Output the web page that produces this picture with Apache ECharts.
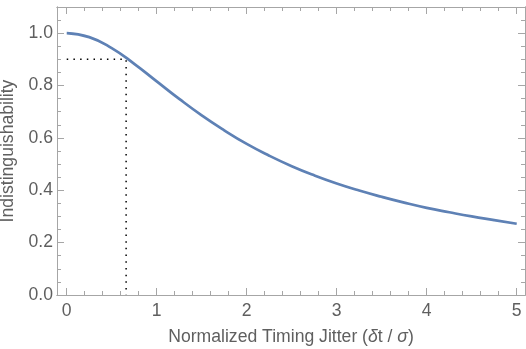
<!DOCTYPE html>
<html>
<head>
<meta charset="utf-8">
<script src="https://cdn.jsdelivr.net/npm/echarts@6/dist/echarts.min.js"></script>
<style>html,body{margin:0;padding:0;background:#fff}#c{width:526px;height:349px}</style>
</head>
<body>
<div id="c"></div>
<script>
// Data
const curveX = [0, 0.25, 0.5, 0.75, 1, 1.25, 1.5, 1.75, 2, 2.25, 2.5, 2.75, 3, 3.25, 3.5, 3.75, 4, 4.25, 4.5, 4.75, 5];
const curveY = [1.0, 0.985, 0.943, 0.883, 0.816, 0.749, 0.686, 0.629, 0.577, 0.532, 0.492, 0.457, 0.426, 0.399, 0.375, 0.353, 0.333, 0.316, 0.300, 0.286, 0.272];
const refX = [0, 0.66, 0.66];
const refY = [0.9, 0.9, 0];
const xMajor = [0, 1, 2, 3, 4, 5];
const xMinor = [0.2,0.4,0.6,0.8,1.2,1.4,1.6,1.8,2.2,2.4,2.6,2.8,3.2,3.4,3.6,3.8,4.2,4.4,4.6,4.8];
const yMajor = [0, 0.2, 0.4, 0.6, 0.8, 1.0];
const yMinor = [0.05,0.1,0.15,0.25,0.3,0.35,0.45,0.5,0.55,0.65,0.7,0.75,0.85,0.9,0.95,1.05];

const frameColor = '#a6a6a6';
const textColor = '#5f5f5f';
const font = 'Liberation Sans, Arial, sans-serif';
const FS = 17.6;
const XMIN = -0.108, XMAX = 5.092, YMIN = 0, YMAX = 1.1;

function xAx(pos, ticks, len, labels, extra) {
  return Object.assign({
    type: 'value', position: pos, min: XMIN, max: XMAX, gridIndex: 0,
    axisLine: { show: true, onZero: false, lineStyle: { color: frameColor, width: 1 } },
    axisTick: { show: true, inside: true, length: len, customValues: ticks, lineStyle: { color: frameColor, width: 1 } },
    axisLabel: labels ? { show: true, customValues: ticks, color: textColor, fontSize: FS, fontFamily: font, margin: 7, formatter: v => String(Math.round(v)) } : { show: false },
    splitLine: { show: false }
  }, extra || {});
}
function yAx(pos, ticks, len, labels, extra) {
  return Object.assign({
    type: 'value', position: pos, min: YMIN, max: YMAX, gridIndex: 0,
    axisLine: { show: true, onZero: false, lineStyle: { color: frameColor, width: 1 } },
    axisTick: { show: true, inside: true, length: len, customValues: ticks, lineStyle: { color: frameColor, width: 1 } },
    axisLabel: labels ? { show: true, customValues: ticks, color: textColor, fontSize: FS, fontFamily: font, margin: 4, formatter: v => v.toFixed(1) } : { show: false },
    splitLine: { show: false }
  }, extra || {});
}

const chart = echarts.init(document.getElementById('c'), null, { renderer: 'canvas' });
chart.setOption({
  animation: false,
  backgroundColor: '#ffffff',
  grid: { left: 57, right: 1, top: 7, bottom: 54, containLabel: false, outerBoundsMode: 'none' },
  xAxis: [
    xAx('bottom', xMajor, 7, true, {
      name: 'Normalized Timing Jitter ({i|δ}t / {i|σ})', nameLocation: 'middle', nameGap: 33,
      nameTextStyle: { color: textColor, fontSize: FS, fontFamily: font,
        rich: { i: { fontStyle: 'italic', color: textColor, fontSize: FS, fontFamily: font } } }
    }),
    xAx('bottom', xMinor, 4, false),
    xAx('top', xMajor, 7, false),
    xAx('top', xMinor, 4, false)
  ],
  yAxis: [
    yAx('left', yMajor, 7, true, {
      name: 'Indistinguishability', nameLocation: 'middle', nameGap: 40, nameRotate: 90,
      nameTextStyle: { color: textColor, fontSize: FS, fontFamily: font }
    }),
    yAx('left', yMinor, 4, false),
    yAx('right', yMajor, 7, false),
    yAx('right', yMinor, 4, false)
  ],
  series: [
    {
      type: 'line', xAxisIndex: 0, yAxisIndex: 0, smooth: true, symbol: 'none',
      data: curveX.map((x, i) => [x, curveY[i]]),
      lineStyle: { color: '#5E81B5', width: 2.7 }, z: 3
    },
    {
      type: 'line', xAxisIndex: 0, yAxisIndex: 0, symbol: 'none',
      data: refX.map((x, i) => [x, refY[i]]),
      lineStyle: { color: '#000000', width: 1.5, type: [1.5, 5.2] }, z: 2
    }
  ]
});
</script>
</body>
</html>
